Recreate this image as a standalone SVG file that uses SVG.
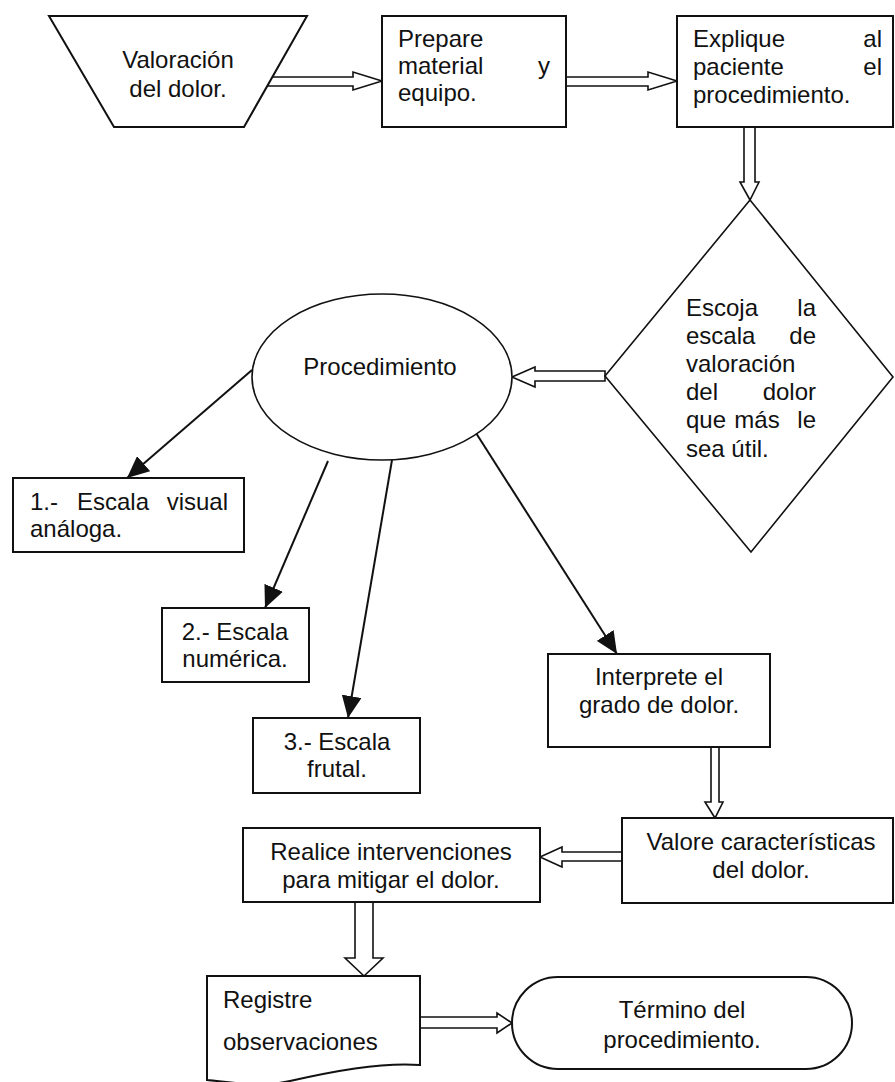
<svg xmlns="http://www.w3.org/2000/svg" width="895" height="1082" viewBox="0 0 895 1082">
  <style>
    .shape { fill: #fff; stroke: #111; stroke-width: 2; }
    .thin { fill: #fff; stroke: #111; stroke-width: 1.6; }
    .t { font-family: "Liberation Sans", Arial, sans-serif; font-size: 24px; fill: #111; }
    .c { text-anchor: middle; }
    .e { text-anchor: end; }
    .line { stroke: #111; stroke-width: 2; fill: none; marker-end: url(#solid); }
    .hollow { fill: #fff; stroke: #111; stroke-width: 1.6; stroke-linejoin: miter; }
  </style>
  <defs>
    <marker id="solid" markerUnits="userSpaceOnUse" markerWidth="24" markerHeight="20" refX="22" refY="10" orient="auto">
      <path d="M0,0 L22,10 L0,20 Z" fill="#111"/>
    </marker>
  </defs>

  <rect width="895" height="1082" fill="#fff"/>

  <!-- connectors -->
  <g id="connectors">
    <!-- hollow block arrows -->
    <path class="hollow" d="M271,77 H353 V72 L382,81 L353,90 V86 H267 Z"/>
    <path class="hollow" d="M566,77 H648 V72 L677,81 L648,90 V86 H566 Z"/>
    <path class="hollow" d="M744,127 V182 H740 L750,200 L759,182 H755 V127 Z"/>
    <path class="hollow" d="M605,371 H535 V367 L512,377 L535,387 V381 H605 Z"/>
    <path class="hollow" d="M711,747 V802 H705 L715,818 L723,802 H719 V747 Z"/>
    <path class="hollow" d="M622,852 H562 V847 L540,857 L562,867 V861 H622 Z"/>
    <path class="hollow" d="M355,902 V958 H345 L364,976 L383,958 H373 V902 Z"/>
    <path class="hollow" d="M420,1017 H497 V1013 L512,1023 L497,1033 V1028 H420 Z"/>
    <!-- solid arrows from Procedimiento -->
    <line class="line" x1="252" y1="370" x2="127" y2="478"/>
    <line class="line" x1="328" y1="461" x2="265" y2="608"/>
    <line class="line" x1="392" y1="460" x2="348" y2="718"/>
    <line class="line" x1="476" y1="433" x2="617" y2="654"/>
  </g>

  <!-- nodes -->
  <g id="valoracion">
    <path class="shape" d="M49,16 H307 L244,127 H114 Z"/>
    <text class="t c" x="178" y="68">Valoración</text>
    <text class="t c" x="178" y="97">del dolor.</text>
  </g>

  <g id="prepare">
    <rect class="shape" x="382" y="16" width="184" height="111"/>
    <text class="t" x="398" y="47">Prepare</text>
    <text class="t" x="398" y="74">material</text>
    <text class="t e" x="550" y="74">y</text>
    <text class="t" x="398" y="101">equipo.</text>
  </g>

  <g id="explique">
    <rect class="shape" x="677" y="16" width="216" height="111"/>
    <text class="t" x="693" y="47">Explique</text>
    <text class="t e" x="882" y="47">al</text>
    <text class="t" x="693" y="75">paciente</text>
    <text class="t e" x="882" y="75">el</text>
    <text class="t" x="693" y="103">procedimiento.</text>
  </g>

  <g id="escoja">
    <path class="thin" d="M750,200 L893,377 L751,552 L605,376 Z"/>
    <text class="t" x="686" y="316">Escoja</text>
    <text class="t e" x="816" y="316">la</text>
    <text class="t" x="686" y="344">escala</text>
    <text class="t e" x="816" y="344">de</text>
    <text class="t" x="686" y="372">valoración</text>
    <text class="t" x="686" y="400">del</text>
    <text class="t e" x="816" y="400">dolor</text>
    <text class="t" x="686" y="428">que</text>
    <text class="t c" x="757" y="428">más</text>
    <text class="t e" x="816" y="428">le</text>
    <text class="t" x="686" y="457">sea útil.</text>
  </g>

  <g id="procedimiento">
    <ellipse class="thin" cx="382" cy="377" rx="130" ry="83"/>
    <text class="t c" x="380" y="375">Procedimiento</text>
  </g>

  <g id="escala-visual">
    <rect class="shape" x="13" y="478" width="231" height="74"/>
    <text class="t" x="30" y="510">1.-</text>
    <text class="t" x="77" y="510">Escala</text>
    <text class="t e" x="228" y="510">visual</text>
    <text class="t" x="30" y="537">análoga.</text>
  </g>

  <g id="escala-numerica">
    <rect class="shape" x="162" y="608" width="147" height="74"/>
    <text class="t c" x="235" y="640">2.- Escala</text>
    <text class="t c" x="235" y="667">numérica.</text>
  </g>

  <g id="escala-frutal">
    <rect class="shape" x="253" y="718" width="167" height="75"/>
    <text class="t c" x="337" y="750">3.- Escala</text>
    <text class="t c" x="337" y="777">frutal.</text>
  </g>

  <g id="interprete">
    <rect class="shape" x="548" y="654" width="222" height="93"/>
    <text class="t c" x="659" y="685">Interprete el</text>
    <text class="t c" x="659" y="713">grado de dolor.</text>
  </g>

  <g id="valore">
    <rect class="shape" x="622" y="818" width="271" height="85"/>
    <text class="t c" x="761" y="850">Valore características</text>
    <text class="t c" x="761" y="878">del dolor.</text>
  </g>

  <g id="realice">
    <rect class="shape" x="243" y="828" width="297" height="74"/>
    <text class="t c" x="391" y="860">Realice intervenciones</text>
    <text class="t c" x="391" y="888">para mitigar el dolor.</text>
  </g>

  <g id="registre">
    <path class="shape" d="M207,976 H420 V1065 C380,1062 330,1072 290,1081 C260,1088 230,1082 207,1080 Z"/>
    <text class="t" x="223" y="1008">Registre</text>
    <text class="t" x="223" y="1050">observaciones</text>
  </g>

  <g id="termino">
    <rect class="shape" x="512" y="977" width="340" height="92" rx="46" ry="46"/>
    <text class="t c" x="682" y="1018">Término del</text>
    <text class="t c" x="682" y="1048">procedimiento.</text>
  </g>
</svg>
